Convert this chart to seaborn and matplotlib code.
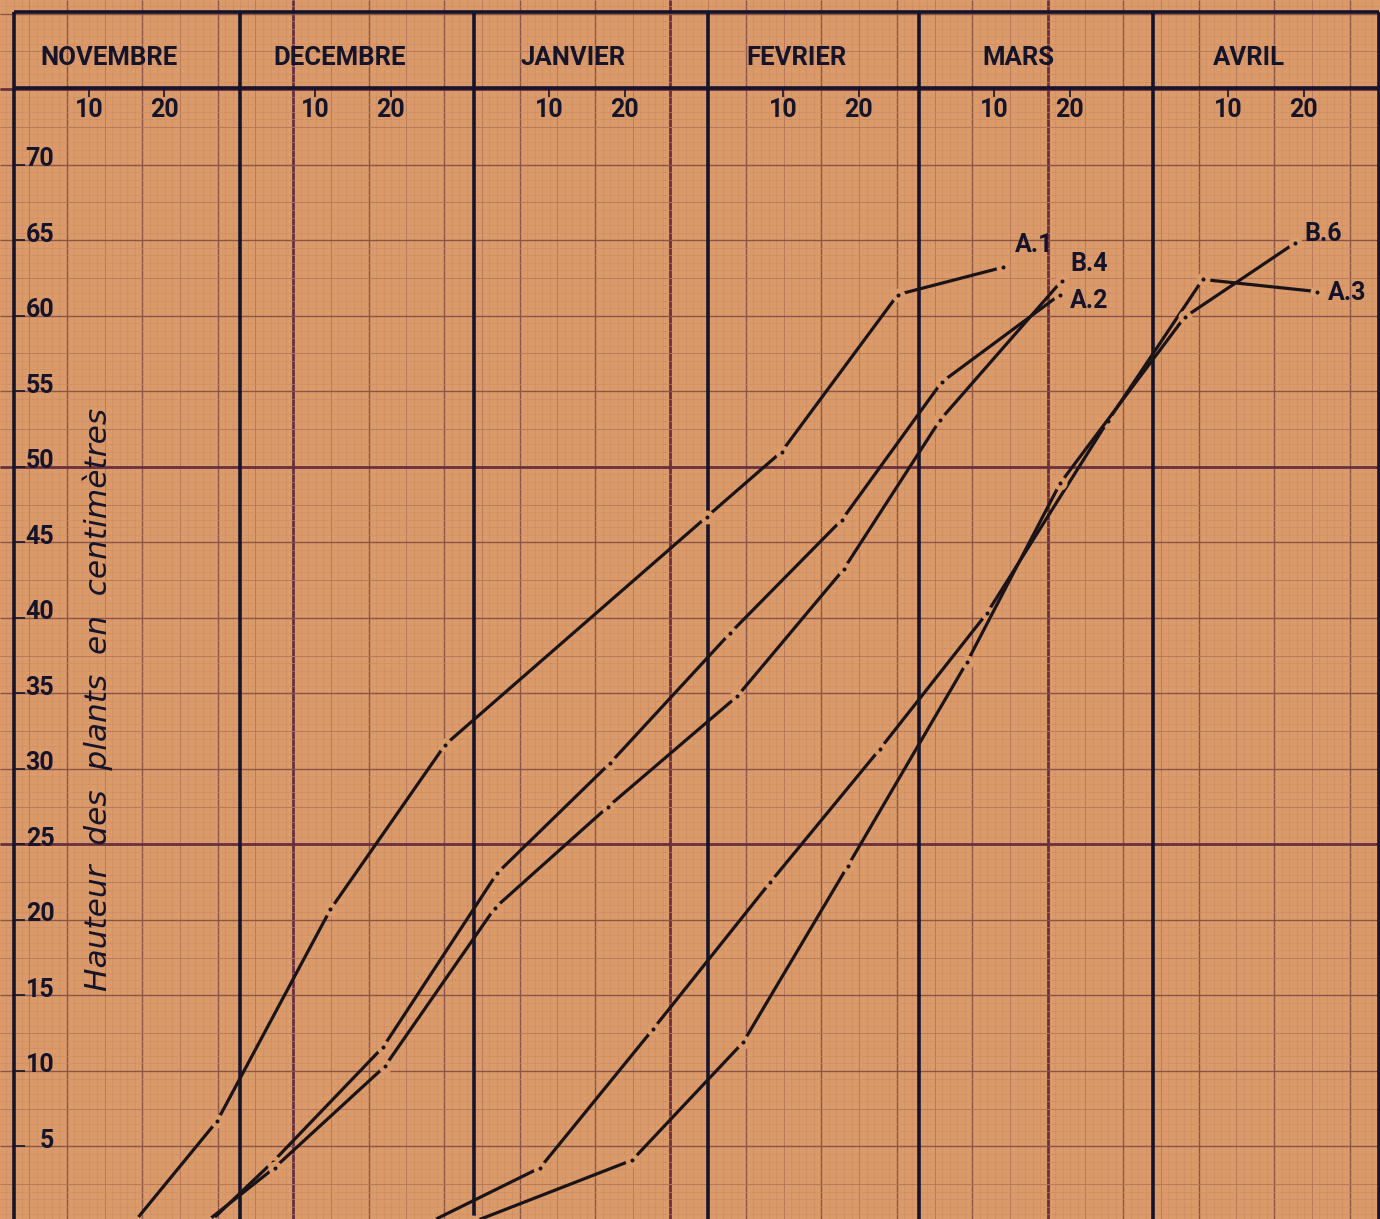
import numpy as np
import matplotlib
matplotlib.use('Agg')
import matplotlib.pyplot as plt
import seaborn as sns

# ---------------------------------------------------------------------------
# data (x = days counted from 1 November, y = height in cm)
# ---------------------------------------------------------------------------
months = ['NOVEMBRE', 'DECEMBRE', 'JANVIER', 'FEVRIER', 'MARS', 'AVRIL']
month_lengths = [30, 31, 31, 28, 31, 30]
day_ticks = [10, 20]
height_ticks = list(range(5, 75, 5))

a1_days = [16, 27, 42, 57.2, 91.9, 101.8, 117.2, 131.1]
a1_vals = [0, 6.7, 20.7, 31.6, 46.7, 51.0, 61.4, 63.2]

a2_days = [26, 34.4, 49.0, 64.1, 79.1, 95.0, 109.8, 123.0, 138.7]
a2_vals = [0, 4.0, 11.6, 23.1, 30.4, 39.0, 46.5, 55.6, 61.4]

b4_days = [25.5, 34.6, 49.2, 63.8, 78.8, 95.9, 110.0, 122.8, 138.9]
b4_vals = [0, 3.6, 10.3, 20.8, 27.5, 34.8, 43.2, 53.1, 62.3]

a3_days = [55.2, 69.8, 84.8, 100.3, 114.8, 129.0, 145.0, 157.6, 172.7]
a3_vals = [0, 3.6, 12.8, 22.5, 31.3, 40.3, 53.0, 62.4, 61.6]

b6_days = [60.9, 82.0, 96.7, 110.6, 126.4, 138.7, 155.2, 169.8]
b6_vals = [0, 4.1, 11.9, 23.6, 37.1, 48.9, 59.9, 64.8]

series = [('A.1', a1_days, a1_vals), ('A.2', a2_days, a2_vals),
          ('B.4', b4_days, b4_vals), ('A.3', a3_days, a3_vals),
          ('B.6', b6_days, b6_vals)]

# where the series names are written
label_xy = {'A.1': (132.7, 64.7), 'B.4': (140.0, 63.4), 'A.2': (140.0, 61.0),
            'B.6': (171.1, 65.4), 'A.3': (174.2, 61.5)}

# ---------------------------------------------------------------------------
paper = '#da9a69'
ink = '#16142a'

fig = plt.figure(figsize=(13.8, 12.19), dpi=100)
fig.patch.set_facecolor(paper)
ax = fig.add_axes([0, 0, 1, 1])
ax.set_facecolor(paper)
x_min, x_max = -1.8, 181.1
y_min, y_max = 0.2, 80.9
ax.set_xlim(x_min, x_max)
ax.set_ylim(y_min, y_max)
ax.axis('off')

# graph paper : mm / 5 mm / cm / 5 cm
grid_styles = [('#cd8d64', 0.4), ('#b27658', 0.6), ('#8c5446', 1.0), ('#6a3040', 2.0)]
for (step, off), (col, lw) in zip([(1, 0.06), (10, 2.06), (10, 7.06), (50, 37.06)], grid_styles):
    xs = np.arange(off - 50, x_max, step)
    xs = xs[xs > x_min]
    ax.vlines(xs, y_min, y_max, colors=col, lw=lw, zorder=1)
for (step, off), (col, lw) in zip([(0.5, 0), (5, 2.5), (5, 0), (25, 0)], grid_styles):
    ys = np.arange(off, y_max, step)
    ax.hlines(ys, x_min, x_max, colors=col, lw=lw, zorder=1)

# frame of the chart
top, header = 80.1, 75.1
starts = np.concatenate([[0], np.cumsum(month_lengths)])
ax.hlines([top, header], 0, starts[-1], colors=ink, lw=2.6, zorder=3)
ax.vlines(starts, y_min, top, colors=ink, lw=2.6, zorder=3)

lettering = ['Roboto', 'DejaVu Sans']
for i, name in enumerate(months):
    mid = (starts[i] + starts[i + 1]) / 2 - 2.3
    ax.text(mid, 77.05, name, ha='center', va='center', fontsize=18.5,
            fontweight='bold', family=lettering, color=ink, zorder=4)
    for d in day_ticks:
        xd = starts[i] + d
        ax.vlines(xd, header - 0.6, header, colors=ink, lw=1.2, zorder=3)
        ax.text(xd, 73.6, str(d), ha='center', va='center', fontsize=18,
                fontweight='bold', family=lettering, color=ink, zorder=4)

for h in height_ticks:
    ax.hlines(h, 0, 1.5, colors=ink, lw=1.2, zorder=3)
    ax.text(5.4, h - 0.1, str(h), ha='right', va='baseline', fontsize=18,
            fontweight='bold', family=lettering, color=ink, zorder=4)

ax.text(11.1, 34.6, 'Hauteur  des  plants  en  centimètres', rotation=90,
        ha='center', va='center', fontsize=22.5, style='italic', color=ink, zorder=4)

# growth curves : solid strokes broken around each measured point
for name, days, vals in series:
    sns.lineplot(x=days, y=vals, ax=ax, sort=False, estimator=None, color='#1a1418',
                 lw=2.3, marker='o', markersize=6.5, markerfacecolor='#1a1418',
                 markeredgecolor=paper, markeredgewidth=3.5, zorder=5)
    lx, ly = label_xy[name]
    ax.text(lx, ly, name, ha='left', va='center', fontsize=18, fontweight='bold',
            family=lettering, color=ink, zorder=6)

if ax.get_legend() is not None:
    ax.get_legend().remove()

fig.savefig('out.png', dpi=100, facecolor=paper)
